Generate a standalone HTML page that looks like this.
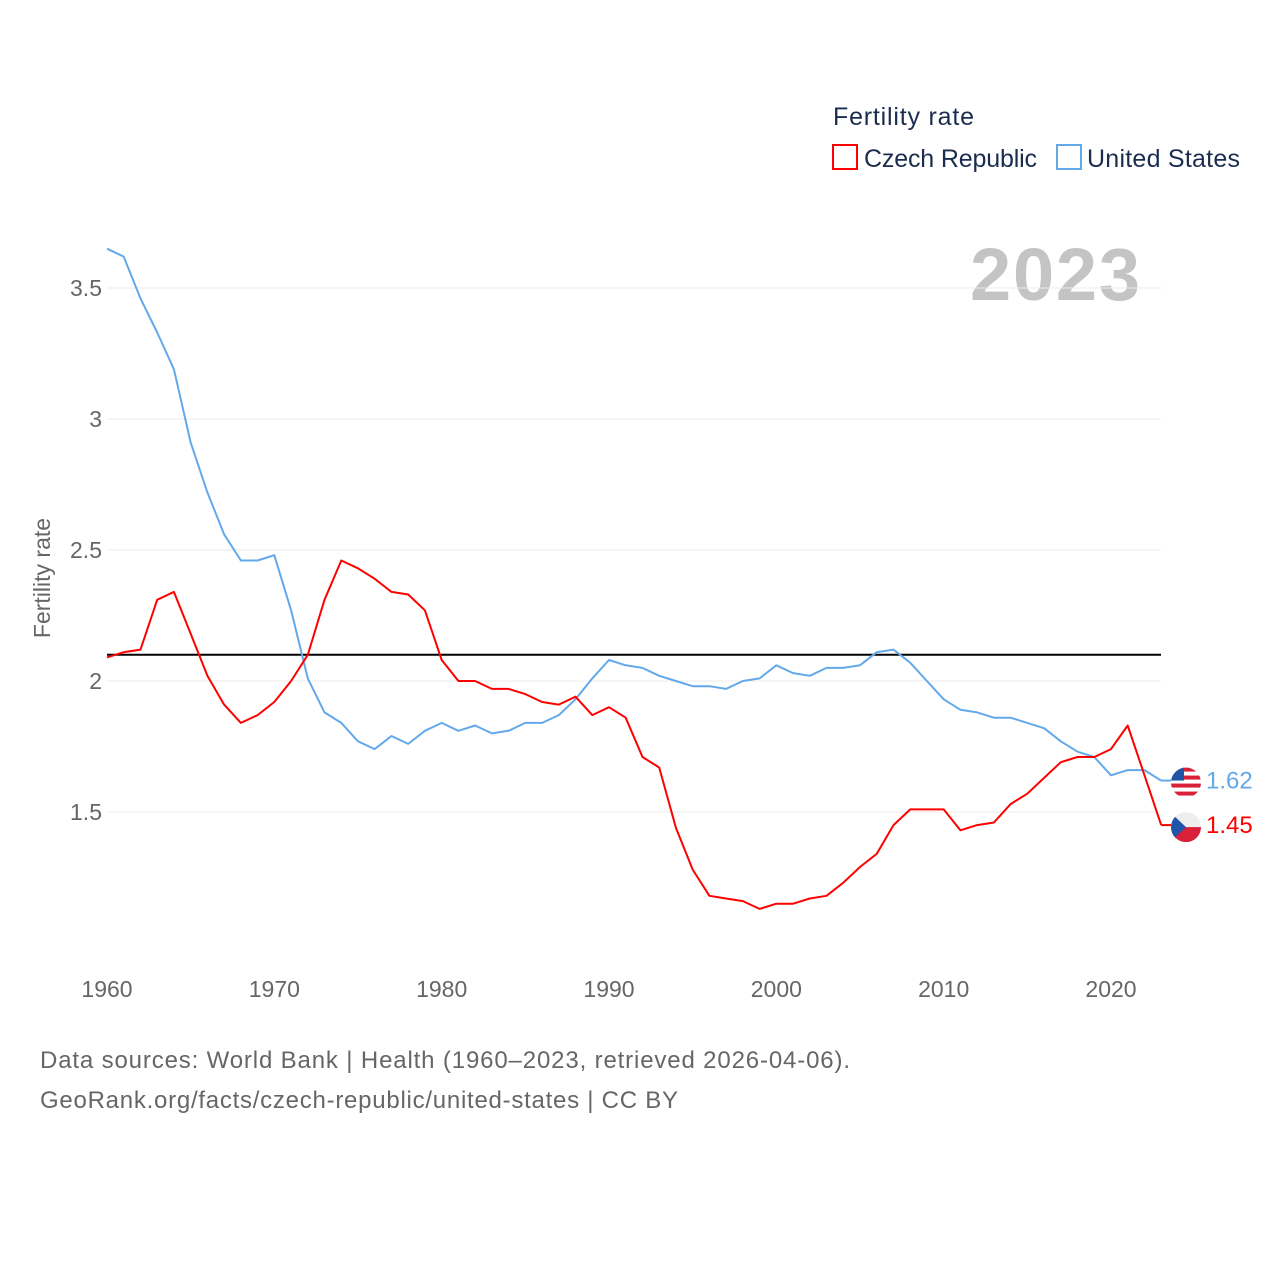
<!DOCTYPE html>
<html><head><meta charset="utf-8"><style>
body{margin:0;background:#fff;font-family:"Liberation Sans",sans-serif}
svg text{font-family:"Liberation Sans",sans-serif}
</style></head><body>
<svg id="chart" width="1280" height="1280" viewBox="0 0 1280 1280">
<g>
<text x="833" y="125" font-size="25" fill="#1b2d4f" textLength="141">Fertility rate</text>
<rect x="833" y="145" width="24" height="24" fill="none" stroke="#ff0000" stroke-width="2"/>
<text x="864" y="167" font-size="25" fill="#1b2d4f" textLength="173">Czech Republic</text>
<rect x="1057" y="145" width="24" height="24" fill="none" stroke="#63a9ea" stroke-width="2"/>
<text x="1087" y="167" font-size="25" fill="#1b2d4f" textLength="153">United States</text>
</g>
<text x="970" y="300" font-size="74" font-weight="bold" fill="#c4c4c4" textLength="170">2023</text>
<text transform="translate(50,578) rotate(-90)" font-size="23" fill="#666" text-anchor="middle">Fertility rate</text>
<g id="grid"></g><g id="series"></g>
<text x="40" y="1068" font-size="24" fill="#666" textLength="810">Data sources: World Bank | Health (1960–2023, retrieved 2026-04-06).</text>
<text x="40" y="1108" font-size="24" fill="#666" textLength="638">GeoRank.org/facts/czech-republic/united-states | CC BY</text>
</svg>
<script>
const years=[];for(let y=1960;y<=2023;y++)years.push(y);
const usValues=[3.65,3.62,3.46,3.33,3.19,2.91,2.72,2.56,2.46,2.46,2.48,2.27,2.01,1.88,1.84,1.77,1.74,1.79,1.76,1.81,1.84,1.81,1.83,1.80,1.81,1.84,1.84,1.87,1.93,2.01,2.08,2.06,2.05,2.02,2.00,1.98,1.98,1.97,2.00,2.01,2.06,2.03,2.02,2.05,2.05,2.06,2.11,2.12,2.07,2.00,1.93,1.89,1.88,1.86,1.86,1.84,1.82,1.77,1.73,1.71,1.64,1.66,1.66,1.62];
const czValues=[2.09,2.11,2.12,2.31,2.34,2.18,2.02,1.91,1.84,1.87,1.92,2.00,2.10,2.31,2.46,2.43,2.39,2.34,2.33,2.27,2.08,2.00,2.00,1.97,1.97,1.95,1.92,1.91,1.94,1.87,1.90,1.86,1.71,1.67,1.44,1.28,1.18,1.17,1.16,1.13,1.15,1.15,1.17,1.18,1.23,1.29,1.34,1.45,1.51,1.51,1.51,1.43,1.45,1.46,1.53,1.57,1.63,1.69,1.71,1.71,1.74,1.83,1.64,1.45];
const yTicks=[1.5,2,2.5,3,3.5];
const yTickLabels=["1.5","2","2.5","3","3.5"];
const xTicks=[1960,1970,1980,1990,2000,2010,2020];
const replacementLevel=2.1;
const NS="http://www.w3.org/2000/svg";
const xS=v=>107+(v-1960)*(1004/60);
const yS=v=>681-(v-2)*262;
const grid=document.getElementById('grid'),ser=document.getElementById('series');
function mk(tag,attrs,parent){const e=document.createElementNS(NS,tag);for(const k in attrs)e.setAttribute(k,attrs[k]);parent.appendChild(e);return e;}
yTicks.forEach((t,i)=>{
 const l=mk('line',{x1:107,x2:1161,y1:yS(t),y2:yS(t),stroke:'#ebebeb','stroke-width':1},grid);
 
 
 const tx=mk('text',{x:102,y:yS(t)+8,'font-size':23,fill:'#666','text-anchor':'end'},grid);
 tx.textContent=yTickLabels[i];
 
 
});
xTicks.forEach(t=>{
 const tx=mk('text',{x:xS(t),y:997,'font-size':23,fill:'#666','text-anchor':'middle'},grid);
 tx.textContent=t;
 
 
});
const ref=mk('line',{x1:107,x2:1161,y1:yS(replacementLevel),y2:yS(replacementLevel),stroke:'#000','stroke-width':2},ser);


function line(vals,color,name){
 const d=vals.map((v,i)=>(i?'L':'M')+xS(years[i]).toFixed(1)+','+yS(v).toFixed(1)).join('');
 const p=mk('path',{d:d,fill:'none',stroke:color,'stroke-width':2,'stroke-linejoin':'round'},ser);
 
 
 const last=vals[vals.length-1],lx=xS(years[years.length-1]),ly=yS(last);
 mk('line',{x1:lx,x2:lx+10,y1:ly,y2:ly,stroke:color,'stroke-width':2},ser);
 return ly;
}
const usY=line(usValues,'#63a9ea','us-line');
const czY=line(czValues,'#ff0000','czech-line');
const fu=mk('g',{},ser);


const cu=mk('clipPath',{id:'cu'},fu);mk('circle',{cx:1186,cy:usY+2,r:15},cu);
const gu=mk('g',{'clip-path':'url(#cu)'},fu);
mk('rect',{x:1170,y:usY-13,width:32,height:30,fill:'#fff'},gu);
for(let i=0;i<4;i++)mk('rect',{x:1170,y:usY-13+i*8,width:32,height:4,fill:'#d8203a'},gu);
mk('rect',{x:1170,y:usY-13,width:14,height:13,fill:'#1f55a8'},gu);
const tu=mk('text',{x:1206,y:usY+8,'font-size':24,fill:'#63a9ea'},ser);
tu.textContent=usValues[usValues.length-1].toFixed(2);


const fc=mk('g',{},ser);


const cc=mk('clipPath',{id:'cc'},fc);mk('circle',{cx:1186,cy:czY+2,r:15},cc);
const gc=mk('g',{'clip-path':'url(#cc)'},fc);
mk('rect',{x:1170,y:czY-13,width:32,height:15,fill:'#eeeeee'},gc);
mk('rect',{x:1170,y:czY+2,width:32,height:15,fill:'#d8203a'},gc);
mk('polygon',{points:`1170,${czY-13} 1186,${czY+2} 1170,${czY+17}`,fill:'#1f55a8'},gc);
const tc=mk('text',{x:1206,y:czY+8,'font-size':24,fill:'#ff0000'},ser);
tc.textContent=czValues[czValues.length-1].toFixed(2);


</script>
</body></html>
